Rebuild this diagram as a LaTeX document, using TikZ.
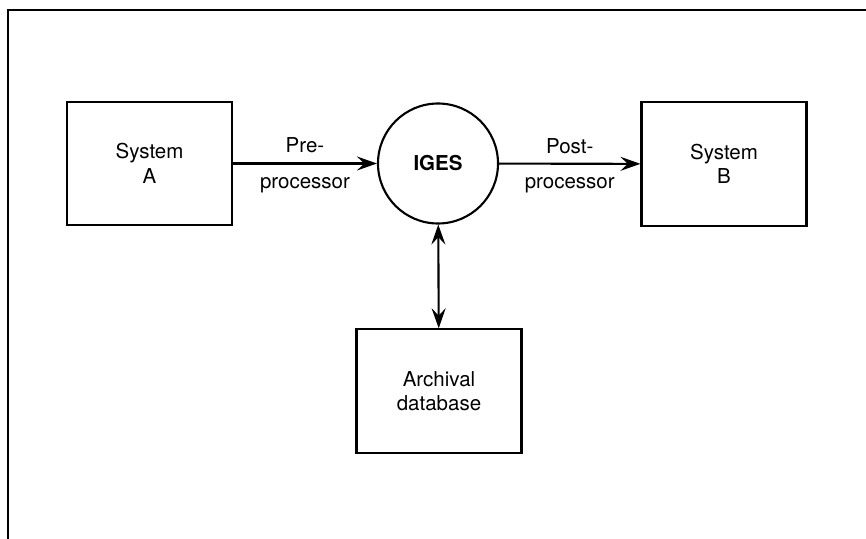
\documentclass[tikz,border=0pt]{standalone}
\usepackage{fontspec}
\setmainfont{TeX Gyre Heros}
\usetikzlibrary{arrows.meta}
\usetikzlibrary{positioning}

\tikzset{
  sysbox/.style={draw,line width=1.8pt,minimum width=4.95cm,minimum height=3.7cm,align=center,font=\fontsize{17.5}{21}\selectfont},
  flowtip/.tip={Stealth[length=0.6cm,width=0.42cm,inset=0.22cm]},
  flowarrow/.style={line width=1.8pt,-flowtip},
  flowlabel/.style={font=\fontsize{17.5}{21}\selectfont,inner sep=0pt}
}

\begin{document}
\begin{tikzpicture}[x=0.03cm,y=-0.03cm]
\useasboundingbox (0,0) rectangle (866,539);
\draw[line width=2pt] (8,539) -- (8,10) -- (866,10);
\node[sysbox] (sysA) at (149.5,163.5) {System\\A};
\node[sysbox] (sysB) at (724,164) {System\\B};
\node[draw,circle,line width=1.8pt,minimum size=3.6cm,inner sep=0pt,font=\fontsize{17.5}{21}\selectfont\bfseries] (iges) at (438,163.5) {IGES};
\node[sysbox] (arch) at (439,391) {Archival\\database};

\draw[flowarrow] (sysA) -- (iges) node[flowlabel,midway,above=0.28cm] {Pre-} node[flowlabel,midway,below=0.38cm] {processor};
\draw[flowarrow] (iges) -- (sysB) node[flowlabel,midway,above=0.28cm] {Post-} node[flowlabel,midway,below=0.38cm] {processor};
\draw[flowarrow,flowtip-flowtip] (iges) -- (arch);

\end{tikzpicture}
\end{document}
